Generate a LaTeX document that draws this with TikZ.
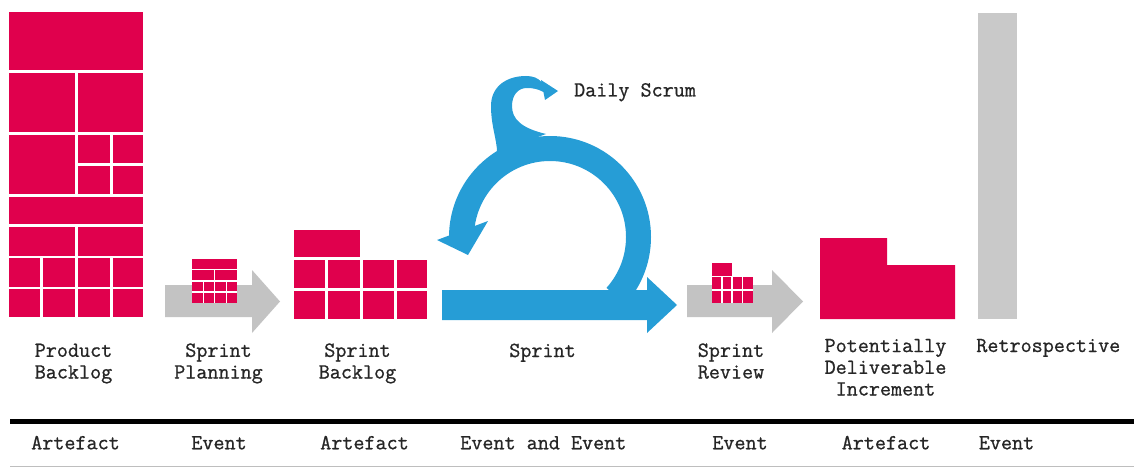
\documentclass[tikz,border=0pt]{standalone}
\usepackage{fontspec}
\newfontfamily\typewriter{Latin Modern Mono}[FakeBold=0.9]
\definecolor{scrumred}{RGB}{224,0,77}
\definecolor{scrumblue}{RGB}{38,157,214}
\definecolor{arrowgrey}{RGB}{195,195,195}
\definecolor{bargrey}{RGB}{201,201,201}
\definecolor{rulegrey}{RGB}{190,190,190}
\tikzset{
  cell/.style={fill=scrumred},
  seam/.style={draw=white, line width=1.2pt},
  lbl/.style={font=\typewriter\fontsize{21.5}{21.7}\selectfont, align=center,
              anchor=base, inner sep=0pt, text=black!85},
}
\begin{document}
\begin{tikzpicture}[x=1pt, y=-1pt]
\useasboundingbox (0,0) rectangle (1134,468);

% ---------- Product Backlog: stacked item blocks ----------
\fill[cell] (9.3,11.7) rectangle (143.3,70);
\fill[cell] (9.3,72.7) rectangle (75,132);
\fill[cell] (78.3,72.7) rectangle (143.3,132);
\fill[cell] (9.3,134.7) rectangle (75,194);
\fill[cell] (78.3,134.7) rectangle (110,163.3);
\fill[cell] (113.3,134.7) rectangle (143.3,163.3);
\fill[cell] (78.3,165.7) rectangle (110,194);
\fill[cell] (113.3,165.7) rectangle (143.3,194);
\fill[cell] (9.3,197.3) rectangle (143.3,224);
\fill[cell] (9.3,227.3) rectangle (75,255.7);
\fill[cell] (78.3,227.3) rectangle (143.3,255.7);
\foreach \y/\yy in {258.3/286.7, 289.3/316.7}{
  \fill[cell] (9.3,\y) rectangle (40,\yy);
  \fill[cell] (43.3,\y) rectangle (75,\yy);
  \fill[cell] (78.3,\y) rectangle (110,\yy);
  \fill[cell] (113.3,\y) rectangle (143.3,\yy);
}

% ---------- Sprint Planning: grey arrow with selected items ----------
\fill[arrowgrey] (165,285) -- (252,285) -- (252,270) -- (280,301.5)
  -- (252,333) -- (252,317) -- (165,317) -- cycle;
\fill[cell] (192,259) rectangle (237,303);
\draw[seam] (192,269.5) -- (237,269.5);
\draw[seam] (192,281) -- (237,281);
\draw[seam] (192,292) -- (237,292);
\draw[seam] (214.8,269.5) -- (214.8,303);
\draw[seam] (203.5,281) -- (203.5,303);
\draw[seam] (226.3,281) -- (226.3,303);

% ---------- Sprint Backlog ----------
\fill[cell] (294,230) rectangle (360,257);
\foreach \y/\yy in {260/288, 291/319}{
  \fill[cell] (294,\y) rectangle (325,\yy);
  \fill[cell] (328,\y) rectangle (360,\yy);
  \fill[cell] (363,\y) rectangle (394,\yy);
  \fill[cell] (397,\y) rectangle (427,\yy);
}

% ---------- Sprint: loop arrow ----------
\begin{scope}
  \clip (550,237) -- (620,300) -- (700,300) -- (700,100) -- (400,100)
        -- (400,237) -- cycle;
  \fill[scrumblue, even odd rule] (550,237) circle[radius=101]
                                  (550,237) circle[radius=76];
\end{scope}
% head at the end of the loop
\fill[scrumblue] (437,240) -- (488,221) -- (468,255) -- cycle;
% straight sprint arrow
\fill[scrumblue] (442,290) -- (647,290) -- (647,277) -- (677,305)
  -- (647,333) -- (647,320) -- (442,320) -- cycle;
% daily scrum hook
\fill[scrumblue] (497,152) .. controls (497,140) and (491,126) .. (491,106)
  .. controls (491,86) and (507,76) .. (526,76)
  .. controls (533,76) and (538,78) .. (541.4,82)
  -- (541,80) -- (558,91) -- (545,100) -- (543.4,92)
  .. controls (538,89) and (533,88) .. (527,88)
  .. controls (518,88) and (512,95) .. (512,106)
  .. controls (512,119) and (521,128) .. (546,134) -- cycle;

% ---------- Sprint Review: grey arrow with done items ----------
\fill[arrowgrey] (687,285) -- (772,285) -- (772,270) -- (803,301.5)
  -- (772,333) -- (772,317) -- (687,317) -- cycle;
\fill[cell] (712,263) rectangle (732,276);
\fill[cell] (712,277.3) rectangle (753,303);
\draw[seam] (712,290) -- (753,290);
\draw[seam] (722,277.3) -- (722,303);
\draw[seam] (732,277.3) -- (732,303);
\draw[seam] (742.5,277.3) -- (742.5,303);

% ---------- Increment ----------
\fill[cell] (820,238) -- (887,238) -- (887,265) -- (955,265)
  -- (955,319) -- (820,319) -- cycle;

% ---------- Retrospective ----------
\fill[bargrey] (978,13) rectangle (1017,319);

% ---------- labels (anchored at the baseline of their last line) ----------
\node[lbl] (dailyscrum) at (635,96.5) {Daily Scrum};
\node[lbl] (lpb) at (73.5,378.5) {Product\\Backlog};
\node[lbl] (lsp) at (218.5,378.5) {Sprint\\Planning};
\node[lbl] (lsb) at (357.5,378.5) {Sprint\\Backlog};
\node[lbl] (ls)  at (542.5,357) {Sprint};
\node[lbl] (lsr) at (731,378.5) {Sprint\\Review};
\node[lbl] (lpi) at (885.5,395.5) {Potentially\\Deliverable\\Increment};
\node[lbl] (lre) at (1048.3,352) {Retrospective};

% ---------- classification rules ----------
\coordinate (ruleL) at (10,421);
\coordinate (ruleR) at (1134,421);
\coordinate (baseL) at (10,466.7);
\coordinate (baseR) at (1134,466.7);
\draw[black, line width=5pt] (ruleL) -- (ruleR);
\draw[rulegrey, line width=1.5pt] (baseL) -- (baseR);

\node[lbl] (k1) at (75.5,449.3) {Artefact};
\node[lbl] (k2) at (219,449.3) {Event};
\node[lbl] (k3) at (364.5,449.3) {Artefact};
\node[lbl] (k4) at (543.3,449.3) {Event and Event};
\node[lbl] (k5) at (740,449.3) {Event};
\node[lbl] (k6) at (886,449.3) {Artefact};
\node[lbl] (k7) at (1006.5,449.3) {Event};
\end{tikzpicture}
\end{document}
